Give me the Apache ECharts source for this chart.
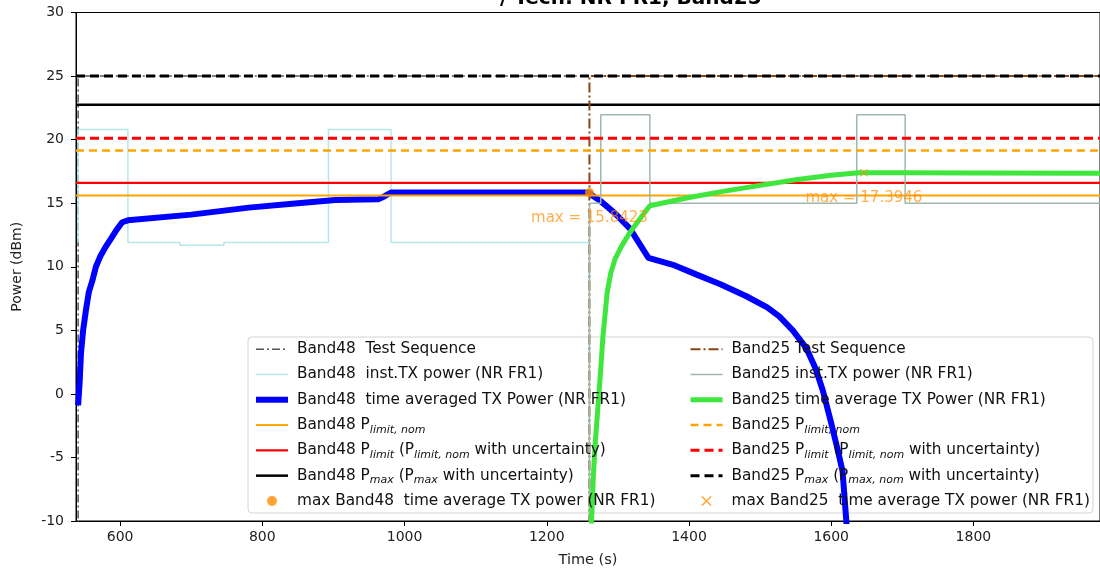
<!DOCTYPE html>
<html><head><meta charset="utf-8">
<script src="https://cdn.jsdelivr.net/npm/echarts@6/dist/echarts.min.js"></script>
<style>html,body{margin:0;padding:0;background:#fff}#c{width:1100px;height:573px}</style>
</head><body><div id="c"></div>
<script>
// ---------- data ----------
const xRange = [538, 1978];
const xTicks = [600, 800, 1000, 1200, 1400, 1600, 1800];

const b48SeqT = [541, 541, 1978];
const b48SeqV = [-40, 25, 25];
const b25SeqT = [1260, 1260, 1978];
const b25SeqV = [-40, 25, 25];

const b48InstT = [541, 541, 611, 611, 684, 684, 746, 746, 893, 893, 981, 981, 1260, 1260];
const b48InstV = [11.9, 20.8, 20.8, 11.9, 11.9, 11.7, 11.7, 11.9, 11.9, 20.8, 20.8, 11.9, 11.9, -40];

const b48AvgT = [541, 543, 545, 548, 552, 556, 561, 566, 572, 579, 587, 595, 603, 611, 700, 781, 850, 903, 963, 972, 981, 1100, 1260,
  1264, 1275, 1296, 1317, 1343, 1380, 1410, 1445, 1480, 1510, 1527, 1546, 1565, 1578, 1588, 1600, 1610, 1616, 1621, 1626];
const b48AvgV = [-0.9, 0.8, 3.2, 5.0, 6.6, 8.0, 8.9, 10.0, 10.8, 11.5, 12.2, 12.9, 13.5, 13.65, 14.1, 14.65, 15.0, 15.25, 15.3, 15.55, 15.84, 15.84, 15.84,
  15.6, 15.2, 14.2, 13.0, 10.7, 10.1, 9.4, 8.6, 7.7, 6.8, 6.1, 5.0, 3.6, 2.0, 0.3, -2.3, -4.6, -6.1, -9.8, -14];

const b25InstT = [1260, 1260, 1276, 1276, 1345, 1345, 1636, 1636, 1704, 1704, 1978];
const b25InstV = [-40, 15, 15, 21.95, 21.95, 15, 15, 21.95, 21.95, 15, 15];

const b25AvgT = [1260, 1263, 1265.5, 1268, 1272, 1276, 1279, 1285, 1290, 1296, 1305, 1317, 1330, 1345, 1400, 1450, 1500, 1550, 1600, 1639, 1700, 1800, 1978];
const b25AvgV = [-40, -10, -6.5, -4, -1, 2, 4.5, 8.0, 9.5, 10.6, 11.6, 12.7, 13.7, 14.8, 15.45, 15.95, 16.4, 16.85, 17.2, 17.39, 17.39, 17.38, 17.35];

// levels: [P_limit,nom, P_limit, P_max]
const b48Levels = [15.6, 16.6, 22.75];
const b25Levels = [19.15, 20.1, 25.0];

const maxB48 = [1260, 15.8423];
const maxB25 = [1646, 17.3946];

const legendLabels = {
  b48seq: 'Band48  Test Sequence',
  b48inst: 'Band48  inst.TX power (NR FR1)',
  b48avg: 'Band48  time averaged TX Power (NR FR1)',
  b48lnom: 'Band48 P{s|limit, nom}',
  b48lim: 'Band48 P{s|limit} (P{s|limit, nom} with uncertainty)',
  b48max: 'Band48 P{s|max} (P{s|max} with uncertainty)',
  b48mk: 'max Band48  time average TX power (NR FR1)',
  b25seq: 'Band25 Test Sequence',
  b25inst: 'Band25 inst.TX power (NR FR1)',
  b25avg: 'Band25 time average TX Power (NR FR1)',
  b25lnom: 'Band25 P{s|limit, nom}',
  b25lim: 'Band25 P{s|limit} (P{s|limit, nom} with uncertainty)',
  b25max: 'Band25 P{s|max} (P{s|max, nom} with uncertainty)',
  b25mk: 'max Band25  time average TX power (NR FR1)'
};

// ---------- build ----------
const FONT = 'DejaVu Sans';
const zip = (t, v) => t.map((x, i) => [x, v[i]]);
const hline = v => [[xRange[0], v], [xRange[1], v]];

function line(name, data, color, width, type) {
  return { name, type: 'line', data, symbol: 'none', showSymbol: false, animation: false,
    lineStyle: { color, width, type: type || 'solid' }, itemStyle: { color }, emphasis: { disabled: true } };
}
const xPath = 'path://M1,0L5,4L9,0L10,1L6,5L10,9L9,10L5,6L1,10L0,9L4,5L0,1Z';
function marker(name, pt, symbol, size) {
  return { name, type: 'scatter', data: [pt], symbol, symbolSize: size, animation: false, z: 5,
    itemStyle: { color: '#ff8c00' }, emphasis: { disabled: true },
    label: { show: true, position: 'bottom', distance: 14, fontFamily: FONT, fontSize: 15,
      color: 'rgba(255,140,0,0.88)', formatter: p => 'max = ' + p.value[1].toFixed(4) } };
}

const series = [
  line('b48seq', zip(b48SeqT, b48SeqV), '#555555', 1.5, [8, 3, 2, 3]),
  line('b48inst', zip(b48InstT, b48InstV), '#b4e8ea', 1.5),
  line('b48avg', zip(b48AvgT, b48AvgV), '#0000ff', 6),
  line('b48lnom', hline(b48Levels[0]), '#ffa500', 2),
  line('b48lim', hline(b48Levels[1]), '#ff0000', 2.2),
  line('b48max', hline(b48Levels[2]), '#000000', 2.5),
  marker('b48mk', maxB48, 'circle', 9),
  line('b25seq', zip(b25SeqT, b25SeqV), '#8b4513', 2, [10, 3, 2, 3]),
  line('b25inst', zip(b25InstT, b25InstV), '#9fb8aa', 1.5),
  line('b25avg', zip(b25AvgT, b25AvgV), '#3ee63e', 5),
  line('b25lnom', hline(b25Levels[0]), '#ffa500', 2.5, [8, 5]),
  line('b25lim', hline(b25Levels[1]), '#ff0000', 3, [9, 5]),
  line('b25max', hline(b25Levels[2]), '#000000', 3, [9, 5]),
  marker('b25mk', maxB25, xPath, 8)
];

const richSub = { s: { fontFamily: FONT, fontSize: 11, fontStyle: 'italic', color: '#111', verticalAlign: 'bottom', lineHeight: 14 } };
function legend(names, left) {
  return { data: names.map(n => n.endsWith('mk') ? { name: n } : { name: n, itemStyle: { opacity: 0 } }),
    left, top: 339, orient: 'vertical', padding: 0, itemGap: 5,
    itemWidth: 32, itemHeight: 10, selectedMode: false,
    lineStyle: { width: 'inherit' },
    textStyle: { fontFamily: FONT, fontSize: 15.3, color: '#111', lineHeight: 20.3, padding: [0, 0, 0, 4], rich: richSub },
    formatter: n => legendLabels[n] };
}
const names = Object.keys(legendLabels);

const option = {
  animation: false,
  backgroundColor: '#fff',
  grid: { left: 76, right: -7, top: 12.5, bottom: 50.5, show: true, borderColor: '#000', borderWidth: 1 },
  xAxis: { type: 'value', min: xRange[0], max: xRange[1],
    name: 'Time (s)', nameLocation: 'middle', nameGap: 32,
    nameTextStyle: { fontFamily: FONT, fontSize: 14.5, color: '#222' },
    axisLine: { onZero: false, lineStyle: { color: '#000', width: 1 } },
    axisTick: { customValues: xTicks, length: 5, lineStyle: { color: '#000' } },
    axisLabel: { customValues: xTicks, fontFamily: FONT, fontSize: 14, color: '#222', margin: 9, formatter: v => String(v) },
    splitLine: { show: false } },
  yAxis: { type: 'value', min: -10, max: 30, interval: 5,
    name: 'Power (dBm)', nameLocation: 'middle', nameGap: 52, nameRotate: 90,
    nameTextStyle: { fontFamily: FONT, fontSize: 14, color: '#222' },
    axisLine: { show: true, onZero: false, lineStyle: { color: '#000', width: 1 } },
    axisTick: { show: true, length: 5, lineStyle: { color: '#000' } },
    axisLabel: { fontFamily: FONT, fontSize: 14, color: '#222', margin: 12 },
    splitLine: { show: false } },
  legend: [legend(names.slice(0, 7), 253), legend(names.slice(7), 688)],
  graphic: { elements: [
    { type: 'rect', z: 3, shape: { x: 248, y: 337, width: 845, height: 176, r: 4 },
      style: { fill: 'rgba(255,255,255,0.8)', stroke: '#d4d4d4', lineWidth: 1 } },
    { type: 'text', z: 10, x: 500, y: -11,
      style: { text: '/ Tech: NR FR1, Band25', font: 'bold 20px "DejaVu Sans"', fill: '#000', verticalAlign: 'top' } }
  ] },
  series
};
const chart = echarts.init(document.getElementById('c'), null, { renderer: 'canvas' });
chart.setOption(option);
</script></body></html>
